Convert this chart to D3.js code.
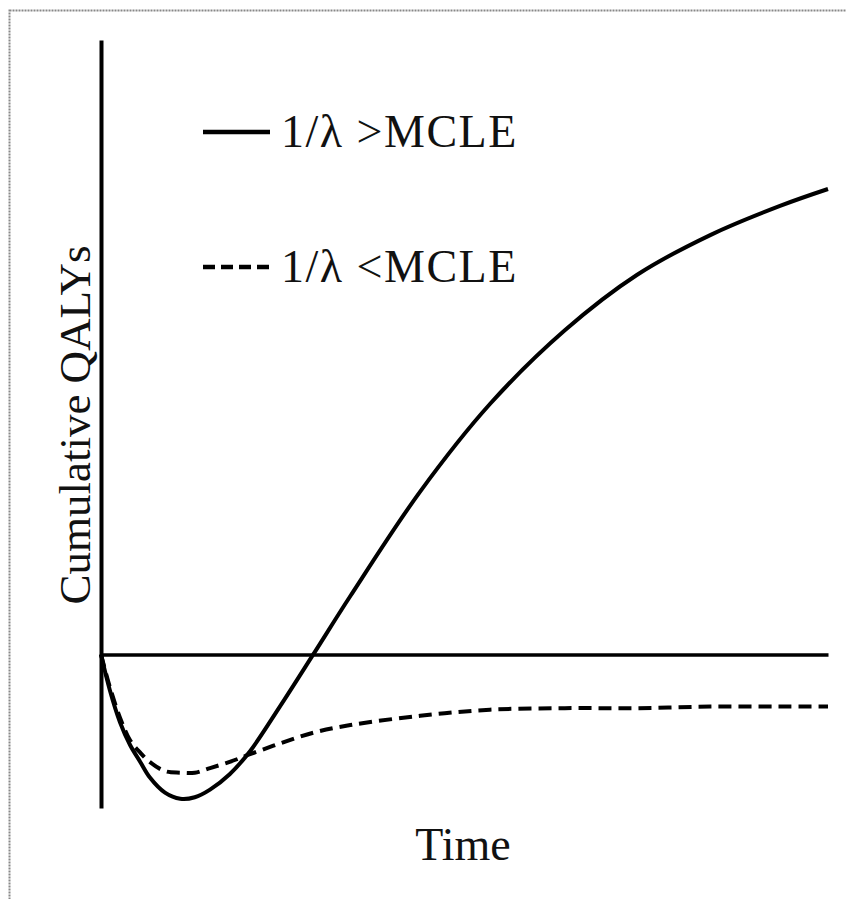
<!DOCTYPE html>
<html lang="en">
<head>
    <meta charset="UTF-8">
    <title>Cumulative QALYs over Time</title>
    <script src="https://d3js.org/d3.v7.min.js"></script>
    <style>
        body { margin: 0; background: #fff; }
        text { font-family: "Liberation Serif", "Times New Roman", serif; fill: #111; }
    </style>
</head>
<body>
    <svg width="846" height="899"></svg>

    <script>
        // time grid (arbitrary units) and cumulative QALYs for both cases
        const time = [0, 0.12, 0.26, 0.40, 0.54, 0.67, 0.88, 1.09, 1.29, 1.50, 1.77, 2.05,
                      2.46, 2.92, 3.43, 4.39, 5.35, 6.38, 7.37, 8.38, 9.34, 10];
        const qalyAbove = [0, -0.23, -0.44, -0.59, -0.70, -0.80, -0.90, -0.94, -0.93, -0.88, -0.78, -0.63,
                           -0.34, 0, 0.38, 1.06, 1.63, 2.11, 2.47, 2.73, 2.92, 3.03];
        const qalyBelow = [0, -0.21, -0.41, -0.56, -0.64, -0.70, -0.76, -0.77, -0.77, -0.74, -0.70, -0.65,
                           -0.58, -0.51, -0.46, -0.40, -0.36, -0.35, -0.35, -0.34, -0.34, -0.34];
        const seriesNames = ["1/λ >MCLE", "1/λ <MCLE"];

        const svg = d3.select("svg");

        // frame of the original figure
        svg.append("rect")
           .attr("x", 9.5).attr("y", 10.5)
           .attr("width", 860).attr("height", 900)
           .attr("fill", "none")
           .attr("stroke", "#888")
           .attr("stroke-width", 2)
           .attr("stroke-dasharray", "2,1");

        const x = d3.scaleLinear().domain([0, 10]).range([101, 828]);
        const y = d3.scaleLinear().domain([-1, 4]).range([808, 40]);

        // y axis: plain line, no ticks
        svg.append("g")
           .attr("transform", `translate(${x(0)},0)`)
           .call(d3.axisLeft(y).tickValues([]).tickSizeOuter(0))
           .select(".domain")
           .attr("stroke", "#000")
           .attr("stroke-width", 4);

        // zero line
        svg.append("g")
           .attr("transform", `translate(0,${y(0)})`)
           .call(d3.axisBottom(x).tickValues([]).tickSizeOuter(0))
           .select(".domain")
           .attr("stroke", "#000")
           .attr("stroke-width", 3.5);

        const line = d3.line()
                       .x(d => x(d[0]))
                       .y(d => y(d[1]))
                       .curve(d3.curveCatmullRom.alpha(0.5));

        svg.append("path")
           .datum(time.map((t, i) => [t, qalyBelow[i]]))
           .attr("d", line)
           .attr("fill", "none")
           .attr("stroke", "#000")
           .attr("stroke-width", 4)
           .attr("stroke-dasharray", "13,7");

        svg.append("path")
           .datum(time.map((t, i) => [t, qalyAbove[i]]))
           .attr("d", line)
           .attr("fill", "none")
           .attr("stroke", "#000")
           .attr("stroke-width", 4);

        // legend
        const legend = svg.append("g");
        seriesNames.forEach((name, i) => {
            const ly = 132 + i * 135;
            legend.append("line")
                  .attr("x1", 203).attr("x2", 270)
                  .attr("y1", ly).attr("y2", ly)
                  .attr("stroke", "#000")
                  .attr("stroke-width", 4.5)
                  .attr("stroke-dasharray", i === 0 ? null : "12,6");
            legend.append("text")
                  .attr("x", 281)
                  .attr("y", ly + 15)
                  .attr("font-size", 46)
                  .attr("letter-spacing", 1.5)
                  .text(name);
        });

        // axis titles
        svg.append("text")
           .attr("transform", "translate(90,425) rotate(-90)")
           .attr("text-anchor", "middle")
           .attr("font-size", 45)
           .text("Cumulative QALYs");

        svg.append("text")
           .attr("x", 463)
           .attr("y", 860)
           .attr("text-anchor", "middle")
           .attr("font-size", 46)
           .text("Time");
    </script>
</body>
</html>
